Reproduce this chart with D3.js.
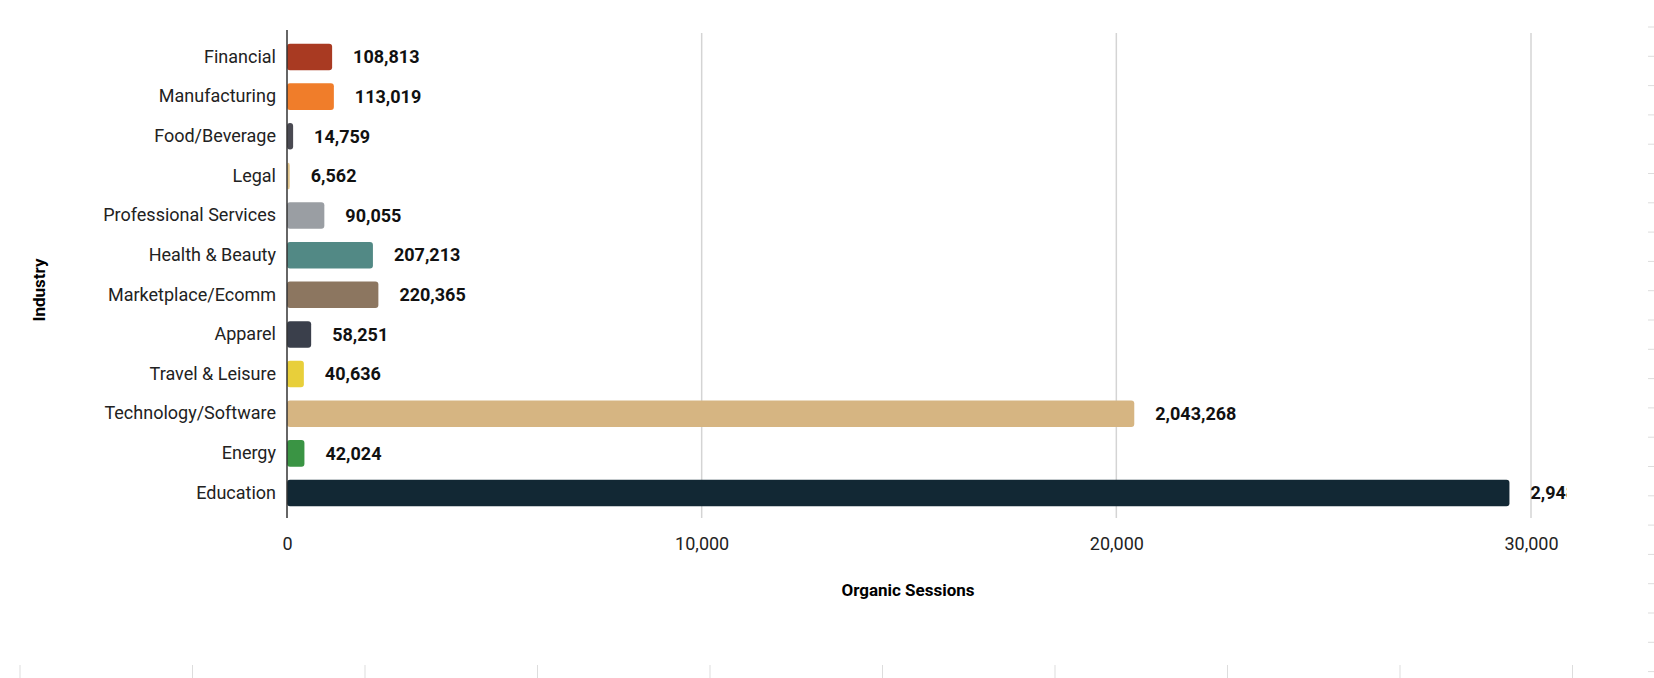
<!DOCTYPE html>
<html><head><meta charset="utf-8">
<script src="https://cdn.jsdelivr.net/npm/d3@7"></script>
<style>body{margin:0;background:#fff;font-family:Roboto,"Noto Sans",sans-serif}</style>
</head><body><div id="chart"></div>
<script>
// industries, top to bottom
var industries = ["Financial","Manufacturing","Food/Beverage","Legal","Professional Services","Health & Beauty","Marketplace/Ecomm","Apparel","Travel & Leisure","Technology/Software","Energy","Education"]
var sessions = [108813,113019,14759,6562,90055,207213,220365,58251,40636,2043268,42024,2948012]
var colors = ["#a93a22","#f07d2a","#4a4a52","#e0c48a","#9a9ea3","#528985","#8c7660","#3a3f4b","#e8cf3a","#d6b582","#3a9444","#122834"]
var xTicks = [0,10000,20000,30000]

var W = 1654, H = 678
var svg = d3.select("#chart").append("svg").attr("width", W).attr("height", H)

var x = d3.scaleLinear().domain([0, 30000]).range([287, 1531])
var y = d3.scaleBand().domain(industries).range([37, 513]).paddingInner(0.33).paddingOuter(0.17)

// grid
svg.selectAll(".grid").data(xTicks.slice(1)).enter().append("line")
  .attr("x1", d => x(d)).attr("x2", d => x(d)).attr("y1", 33).attr("y2", 518)
  .attr("stroke", "#d4d4d4").attr("stroke-width", 1.5)

// decorative edge ticks
svg.selectAll(".rt").data(d3.range(0, 23)).enter().append("line")
  .attr("x1", 1648).attr("x2", W).attr("y1", d => 27 + d * 29.3).attr("y2", d => 27 + d * 29.3)
  .attr("stroke", "#ddd")
svg.selectAll(".bt").data(d3.range(0, 10)).enter().append("line")
  .attr("x1", d => 20 + d * 172.5).attr("x2", d => 20 + d * 172.5).attr("y1", 665).attr("y2", H)
  .attr("stroke", "#ddd")

var clip = svg.append("clipPath").attr("id", "clip").append("rect")
  .attr("x", 0).attr("y", 0).attr("width", 1567).attr("height", H)
var g = svg.append("g").attr("clip-path", "url(#clip)")

g.selectAll("rect.bar").data(industries).enter().append("rect")
  .attr("class", "bar")
  .attr("x", x(0))
  .attr("y", d => y(d))
  .attr("width", (d, i) => x(sessions[i] / 100) - x(0))
  .attr("height", y.bandwidth())
  .attr("rx", 3)
  .attr("fill", (d, i) => colors[i])

g.selectAll("text.val").data(industries).enter().append("text")
  .attr("x", (d, i) => x(sessions[i] / 100) + 21)
  .attr("y", d => y(d) + y.bandwidth() / 2)
  .attr("dy", "0.35em")
  .attr("font-size", 18).attr("font-weight", "bold").attr("fill", "#111")
  .text((d, i) => d3.format(",")(sessions[i]))

// y axis
var ya = svg.append("g").attr("transform", "translate(287,0)")
  .call(d3.axisLeft(y).tickSize(0).tickPadding(11))
ya.select(".domain").remove()
ya.selectAll("text").attr("font-size", 18).attr("fill", "#222").attr("font-family", "Roboto")
svg.append("line").attr("x1", 287).attr("x2", 287).attr("y1", 30).attr("y2", 518)
  .attr("stroke", "#333").attr("stroke-width", 1.5)

// x axis
var xa = svg.append("g").attr("transform", "translate(0,518)")
  .call(d3.axisBottom(x).tickValues(xTicks).tickSize(0).tickPadding(19).tickFormat(d3.format(",")))
xa.select(".domain").remove()
xa.selectAll("text").attr("font-size", 18).attr("fill", "#222").attr("font-family", "Roboto")

svg.append("text").attr("x", 908).attr("y", 596).attr("text-anchor", "middle")
  .attr("font-size", 17).attr("font-weight", "bold").text("Organic Sessions")
svg.append("text").attr("transform", "translate(45,290) rotate(-90)").attr("text-anchor", "middle")
  .attr("font-size", 17).attr("font-weight", "bold").text("Industry")
</script></body></html>
